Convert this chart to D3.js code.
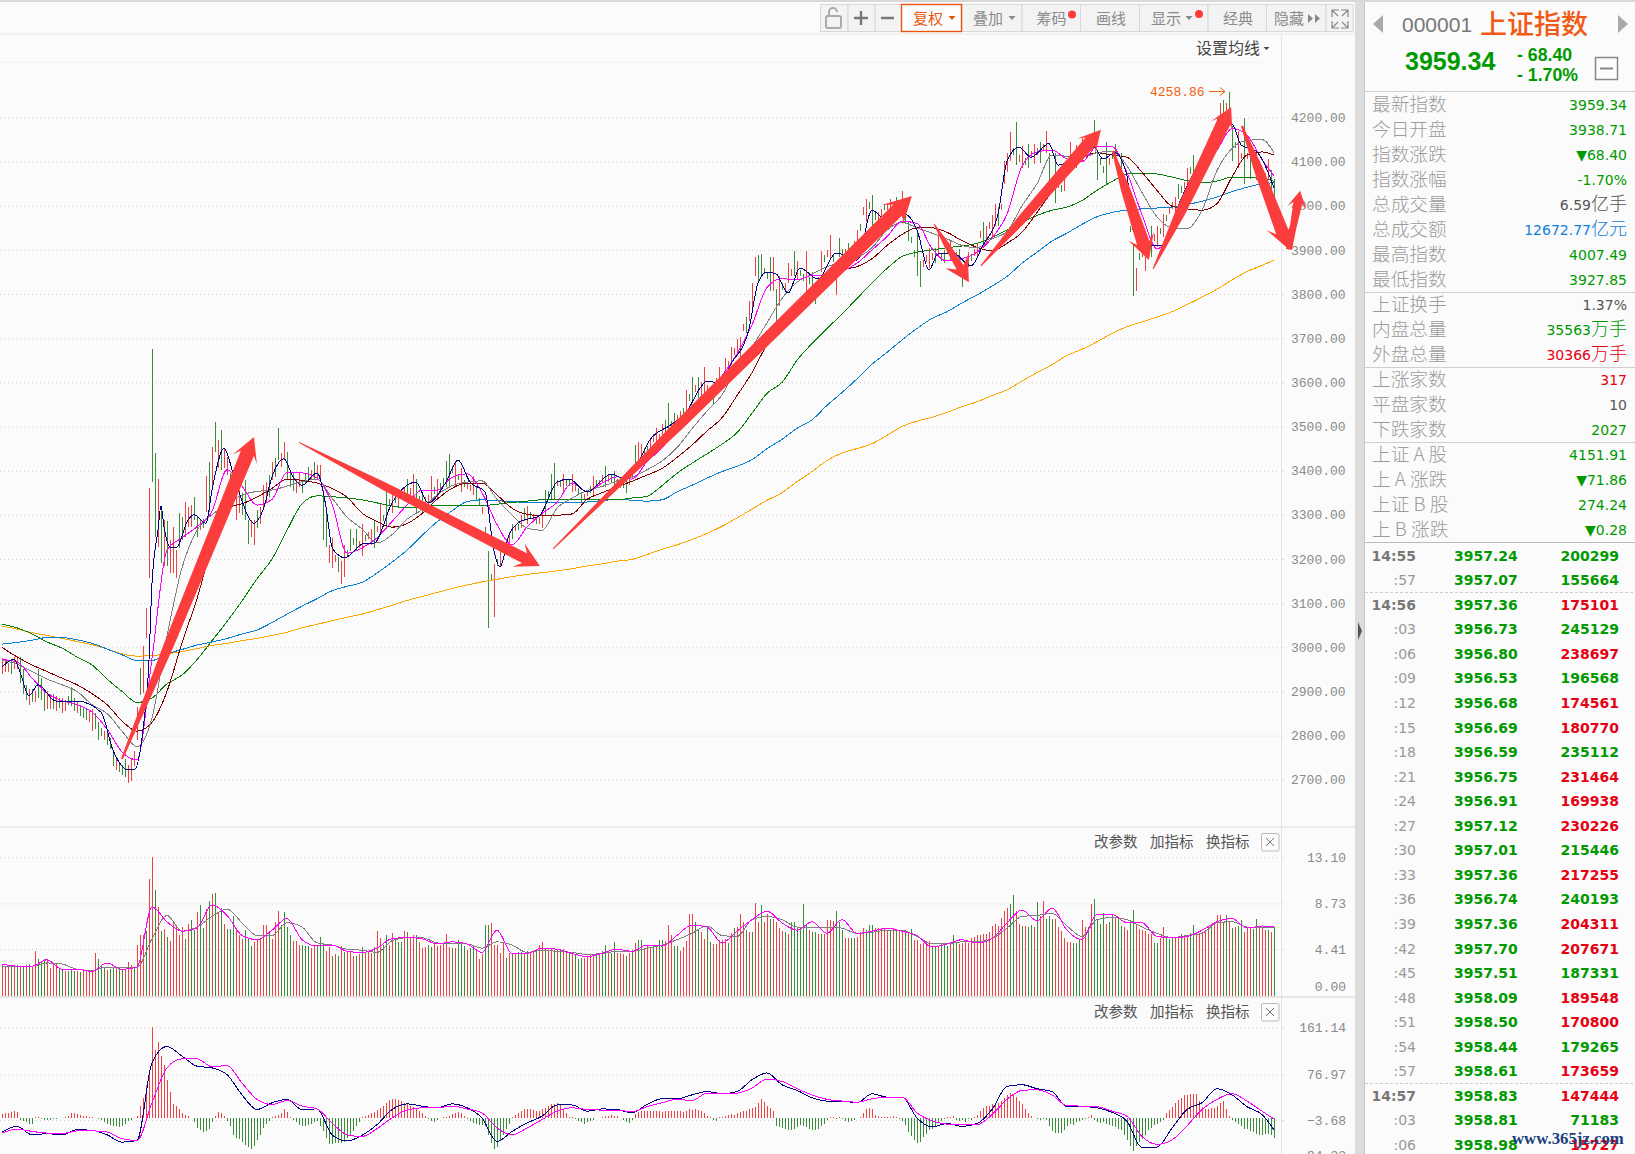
<!DOCTYPE html>
<html>
<head>
<meta charset="utf-8">
<script src="https://cdnjs.cloudflare.com/ajax/libs/d3/7.8.5/d3.min.js"></script>
<style>
  html, body { margin: 0; padding: 0; background: #fbfbfb; overflow: hidden; }
</style>
</head>
<body>
<div id="my_dataviz"></div>
<script>
// tick labels
var priceTicks = [2700, 2800, 2900, 3000, 3100, 3200, 3300, 3400, 3500, 3600, 3700, 3800, 3900, 4000, 4100, 4200];
var volTicks = [13.10, 8.73, 4.41, 0];
var macdTicks = [161.14, 76.97, -3.68, -84.33];

// one entry per trading bar, ten to a row
var candleLow = [
  2940,2945,2945,2940,2950,2950,2919,2895,2880,2870,
  2877,2875,2886,2880,2855,2860,2860,2860,2855,2862,
  2850,2855,2870,2866,2855,2850,2845,2840,2835,2830,
  2810,2815,2790,2798,2790,2779,2770,2730,2722,2718,
  2711,2707,2693,2696,2730,2790,2892,2896,3020,3156,
  3375,3250,3227,3191,3183,3183,3168,3168,3156,3224,
  3243,3250,3273,3273,3288,3250,3266,3270,3307,3307,
  3356,3443,3405,3402,3405,3390,3320,3330,3288,3303,
  3300,3288,3235,3250,3232,3270,3280,3318,3330,3341,
  3379,3386,3424,3409,3424,3379,3364,3355,3349,3364,
  3349,3370,3379,3379,3379,3379,3379,3243,3228,3190,
  3179,3192,3171,3143,3159,3205,3219,3232,3219,3225,
  3207,3240,3245,3231,3225,3260,3255,3285,3267,3320,
  3305,3327,3315,3335,3345,3327,3345,3327,3303,3327,
  3303,3325,3330,3327,3347,3339,3357,3367,3363,3363,
  3395,3363,3378,3351,3362,3358,3353,3345,3333,3322,
  3302,3257,3043,3150,3069,3185,3183,3218,3232,3230,
  3245,3263,3265,3270,3285,3279,3293,3288,3280,3280,
  3270,3297,3340,3333,3333,3365,3362,3350,3365,3365,
  3352,3355,3345,3327,3333,3343,3350,3345,3365,3365,
  3375,3363,3375,3375,3363,3368,3360,3360,3350,3368,
  3386,3411,3420,3417,3433,3438,3430,3465,3453,3467,
  3460,3465,3495,3497,3478,3510,3520,3527,3534,3557,
  3556,3578,3565,3560,3565,3577,3565,3551,3595,3600,
  3602,3612,3632,3640,3662,3660,3652,3717,3712,3740,
  3764,3842,3825,3842,3845,3835,3807,3807,3734,3773,
  3810,3808,3825,3840,3842,3833,3840,3830,3790,3822,
  3805,3777,3822,3850,3872,3885,3877,3872,3799,3885,
  3887,3886,3870,3886,3905,3900,3942,3980,3963,3992,
  3946,3967,3955,3977,3990,3990,3978,3987,3972,3992,
  3972,3960,3920,3915,3885,3842,3816,3862,3872,3860,
  3878,3870,3885,3875,3870,3890,3877,3875,3880,3860,
  3816,3845,3862,3875,3887,3885,3926,3911,3911,3947,
  3930,3955,3955,3990,4050,4076,4102,4115,4093,4100,
  4085,4092,4085,4110,4095,4115,4098,4125,4119,4050,
  4050,4007,4040,4032,4033,4072,4102,4095,4085,4108,
  4100,4117,4127,4137,4145,4059,4092,4075,4050,4092,
  4105,4093,4080,4050,4047,4002,3940,3796,3808,3877,
  3885,3852,3897,3885,3920,3906,3935,3929,3965,3982,
  3992,3980,4015,4030,4037,4040,4072,4059,4072,4050,
  4085,4100,4115,4119,4155,4182,4189,4190,4217,4205,
  4102,4130,4085,4105,4050,4105,4060,4085,4059,4068,
  4068,4060,4059,4025,4020
];
var candleHigh = [
  2975,2972,2965,2972,2978,2980,2979,2950,2915,2905,
  2905,2900,2950,2930,2905,2900,2895,2895,2890,2885,
  2885,2880,2890,2910,2885,2875,2870,2865,2860,2855,
  2860,2850,2830,2816,2810,2805,2795,2760,2752,2737,
  2733,2748,2733,2748,2764,2865,2952,3003,3088,3360,
  3676,3440,3381,3318,3288,3285,3243,3273,3220,3303,
  3296,3330,3318,3322,3341,3296,3288,3290,3388,3420,
  3454,3510,3470,3491,3450,3430,3394,3380,3364,3356,
  3350,3379,3288,3288,3288,3310,3318,3367,3375,3390,
  3420,3428,3496,3439,3466,3443,3402,3395,3379,3398,
  3379,3395,3409,3402,3420,3413,3413,3356,3318,3232,
  3247,3208,3205,3195,3231,3220,3267,3248,3267,3240,
  3279,3255,3260,3267,3285,3275,3327,3300,3363,3336,
  3351,3343,3357,3350,3362,3381,3360,3393,3381,3343,
  3345,3340,3345,3387,3363,3381,3373,3383,3423,3437,
  3410,3423,3393,3405,3378,3372,3367,3387,3363,3338,
  3318,3273,3219,3165,3189,3200,3243,3232,3246,3262,
  3280,3277,3280,3300,3315,3321,3307,3302,3295,3295,
  3310,3357,3355,3393,3417,3380,3376,3393,3380,3378,
  3392,3370,3360,3351,3347,3357,3365,3387,3380,3380,
  3390,3411,3390,3390,3399,3382,3375,3375,3387,3382,
  3404,3459,3465,3461,3452,3457,3470,3482,3497,3483,
  3505,3515,3554,3513,3530,3525,3535,3543,3582,3573,
  3612,3595,3612,3600,3635,3593,3580,3591,3610,3634,
  3618,3655,3648,3680,3678,3699,3703,3733,3747,3785,
  3825,3885,3888,3890,3860,3850,3885,3885,3812,3842,
  3825,3824,3870,3857,3898,3875,3855,3845,3898,3838,
  3850,3825,3838,3898,3888,3900,3933,3888,3868,3928,
  3903,3902,3915,3902,3920,3945,3958,3998,4015,4008,
  4024,3983,3985,3993,4005,4005,4015,4003,4020,4008,
  4033,3976,3965,3930,3900,3946,3876,3878,3888,3905,
  3894,3905,3942,3890,3900,3905,3920,3890,3895,3903,
  3868,3860,3895,3890,3903,3915,3942,3963,3955,3963,
  3980,4003,3998,4005,4102,4119,4167,4130,4190,4115,
  4136,4108,4141,4125,4141,4130,4145,4140,4170,4119,
  4065,4119,4055,4048,4093,4088,4145,4110,4138,4122,
  4154,4133,4143,4153,4195,4119,4108,4090,4145,4108,
  4120,4141,4095,4119,4063,4018,3955,3911,3860,3893,
  3900,3911,3913,3955,3935,3955,3950,3981,3980,3998,
  4008,4020,4050,4045,4053,4085,4088,4115,4088,4095,
  4100,4115,4130,4167,4170,4198,4232,4240,4233,4258.86,
  4180,4145,4170,4120,4199,4120,4120,4100,4124,4082,
  4082,4075,4106,4080,4060
];
var candleDir = [
  "rrrgrrgggr","grgggrrgrg","rrgggrgggr","rgggrgggrg","ggrrrrgrrr",
  "ggrgrgrrrg","grrrggrgrg","rgrgrrggrr","gggrrgrrrg","rggrrgggrr",
  "gggrgrrggr","rrgrrggggr","rgrrgrrggg","rgrgrgrrgg","grrrgrgggg",
  "grgrgrrrgg","rgggrgrgrr","grgrgrgrgr","rggggrgrgg","rrggrrgrgr",
  "rgrggrrggr","ggrrggrrrr","rggggrrgrg","grgrrrggrr","grrrrrrrgr",
  "rrgggggrgr","grrrgrggrg","ggrrgrrgrg","grggrrgrrg","ggrrgrrggr",
  "rggggggrrr","rgrggrrrrg","grrgrrrgrr","rrgrrrrggr","rggrrrgrrg",
  "ggrgrrrgrr","rgrrgggggr","ggrgggggrg","rrggrrgrgr","rrggrrggrr",
  "grrrrgrgrg","ggrrgrgrrg","grrgg"
].join("");

var volume = [
  2.9,2.8,2.7,2.9,2.8,2.9,2.8,2.8,2.9,3.0,
  2.7,4.2,3.5,3.3,3.5,3.4,2.6,3.0,3.0,2.6,
  2.4,2.3,2.3,2.4,2.3,2.3,2.2,2.3,2.4,2.3,
  2.4,4.0,3.5,2.8,2.7,2.4,2.5,2.7,2.6,2.5,
  2.5,2.5,3.2,2.9,2.6,4.8,5.7,5.7,6.1,11.0,
  13.1,10.0,8.4,6.1,6.3,5.6,5.2,7.0,6.7,5.7,
  6.5,5.4,6.8,7.2,6.2,7.9,8.6,6.4,8.2,9.0,
  9.6,9.7,7.8,8.3,6.8,6.3,6.3,7.5,6.3,5.7,
  5.4,6.2,5.5,4.7,5.1,5.4,5.4,6.7,6.7,6.0,
  5.4,7.0,8.0,6.7,7.9,6.5,5.7,5.2,5.2,4.8,
  4.8,4.7,4.7,4.5,4.8,4.8,5.6,4.9,4.2,4.6,
  3.8,3.9,3.8,4.7,4.1,4.2,4.2,3.8,3.8,3.9,
  4.6,4.0,4.1,4.0,4.6,6.1,5.5,4.8,5.7,4.8,
  5.9,5.5,5.1,5.1,6.1,6.0,5.5,5.7,5.7,5.1,
  4.5,4.6,4.8,4.6,5.0,4.7,4.8,4.9,5.8,4.6,
  4.5,4.5,5.3,5.1,4.7,4.3,4.5,4.8,4.3,3.5,
  3.9,6.7,6.7,6.9,4.8,4.8,4.0,5.1,3.6,4.0,
  4.0,4.0,4.1,4.1,4.0,4.2,4.0,4.1,4.4,4.8,
  5.1,4.5,4.2,4.4,4.3,4.3,4.3,4.4,4.2,4.1,
  4.1,3.9,3.5,3.6,3.6,3.8,3.9,3.9,3.9,4.0,
  4.2,4.8,4.2,4.0,5.1,4.0,4.0,3.9,3.8,4.0,
  4.3,5.0,5.3,5.3,4.5,4.7,4.6,4.7,4.6,5.3,
  5.3,5.2,6.7,5.7,4.7,4.7,4.2,4.6,5.2,7.7,
  7.7,7.0,6.2,6.0,5.4,6.5,5.1,4.9,4.9,5.3,
  5.3,5.4,5.0,5.9,6.4,6.5,7.7,7.0,6.2,6.0,
  6.0,8.8,7.0,8.6,7.0,7.7,7.3,7.3,7.0,6.4,
  6.1,6.0,5.8,7.0,7.0,6.5,6.5,8.7,6.8,6.2,
  6.0,6.0,5.8,5.8,5.8,7.2,7.2,7.1,8.0,7.0,
  6.2,5.5,5.5,5.5,5.5,5.6,6.0,6.4,6.2,6.7,
  6.7,6.4,6.4,6.4,6.4,6.2,6.2,6.2,6.3,6.2,
  6.1,6.1,6.0,6.3,5.3,5.3,4.9,5.0,5.2,5.2,
  4.7,4.6,4.6,4.9,5.0,4.7,5.0,5.7,5.0,4.9,
  5.0,5.2,5.0,5.5,5.6,5.7,5.7,5.8,5.8,6.0,
  6.6,6.8,6.6,7.4,8.0,8.3,8.7,9.5,8.0,6.8,
  6.6,6.6,6.5,6.7,6.5,8.9,7.5,9.0,7.3,7.5,
  7.3,7.3,6.5,6.1,5.5,5.1,5.1,5.0,5.0,5.4,
  7.2,6.5,6.5,8.7,9.2,7.2,6.8,7.8,6.8,7.0,
  7.7,7.4,7.4,6.6,6.5,6.2,7.0,8.1,6.7,6.3,
  6.2,6.1,5.8,5.8,5.0,5.0,5.5,6.5,5.5,5.4,
  5.5,5.5,5.5,5.8,5.7,5.7,5.9,6.7,5.9,5.9,
  6.0,6.2,6.5,6.6,6.9,7.6,7.6,7.0,7.6,7.0,
  6.4,6.5,6.6,7.2,6.0,6.3,6.5,6.3,7.3,6.5,
  6.4,6.2,6.2,6.0,6.5
];
var volumeDir = [
  "rrrgrgrgrg","rrgggrrrrg","grgggrgrrr","rrgggrggrg","grrrgrrrgr",
  "rgrgrgrrrr","rgrggrggrg","rgrgrgggrr","rgggrrrrrg","rrrggggrrr",
  "gggrrgggrr","grgrgrrrgr","grrrgrrggr","rgggrgrrgr","rrggrrrrrr",
  "grgggrggrr","rggrrrrrgr","grggrgrrgr","rgrrgrgrrg","rgggrrrrgr",
  "ggrggrrrgr","grggrrrgrg","grrrggrrrr","rggrrggrrr","rrgrgrrrgr",
  "grrgrrgrrr","rgrggggggr","ggrgrrrrgg","grrggrrrgg","grrrrrgrgr",
  "rgrgrrrrrr","ggrgggrggr","rrrrrrrrrr","rrrrrrggrr","grggrgrrgg",
  "grrrrrrggg","rrgrggggrg","grggrrggrr","rrrrggrrgg","grrgrrggrr",
  "rrrgrrrggr","grggrrrggr","rrgrg"
].join("");

var macdHist = [
  7,9,9,10,12,10,-3,-6,-8,-10,
  -10,1,1,-2,-4,-3,-3,-2,-2,-1,
  -1,1,3,8,9,7,6,4,3,2,
  1,-1,-2,-4,-8,-10,-13,-14,-15,-16,
  -14,-10,-6,-4,-1,3,21,36,58,81,
  162,121,135,110,94,68,46,24,21,16,
  9,6,3,-1,-8,-18,-22,-25,-24,-20,
  -8,4,10,8,4,-5,-15,-30,-35,-38,
  -42,-48,-52,-56,-50,-40,-30,-18,-10,-5,
  2,4,6,9,15,10,2,-3,-8,-12,
  -14,-14,-12,-10,-8,-6,-15,-24,-35,-46,
  -46,-45,-45,-44,-42,-36,-32,-24,-15,-8,
  2,4,6,8,11,14,18,22,26,32,
  33,33,32,30,27,25,22,20,16,12,
  8,4,-2,-5,-7,-4,0,1,1,3,
  7,9,10,9,4,-2,-6,-9,-11,-13,
  -12,-14,-30,-44,-56,-52,-40,-30,-20,-10,
  2,5,9,13,15,16,15,14,12,12,
  15,18,21,24,25,27,24,15,8,2,
  1,-2,-5,-8,-10,-7,-5,-3,-1,0,
  1,3,4,5,4,3,-1,-4,-7,-9,
  -3,7,10,12,12,12,13,13,13,13,
  11,12,12,12,12,13,12,11,13,15,
  14,15,14,12,9,3,1,-4,-5,2,
  2,3,5,7,5,8,10,12,13,16,
  18,20,26,33,28,22,17,12,-14,-17,
  -18,-20,-21,-22,-20,-16,-13,-14,-17,-20,
  -22,-21,-19,-15,-10,-3,1,2,-2,1,
  -2,-5,-8,-5,-4,-1,2,8,15,18,
  15,6,3,2,2,1,2,3,1,-2,
  -6,-12,-25,-32,-40,-44,-42,-34,-28,-22,
  -20,-16,-9,-5,-2,1,2,4,-3,-5,
  -4,-8,-2,-3,2,6,12,18,21,22,
  24,23,26,30,36,41,44,42,37,30,
  24,16,8,3,-1,-2,-3,-2,-3,-14,
  -24,-27,-26,-27,-22,-14,-10,-12,-8,-6,
  -4,-2,1,6,-4,-7,-9,-8,-11,-12,
  -14,-16,-20,-22,-30,-40,-50,-59,-50,-42,
  -38,-30,-22,-18,-12,-10,-8,-3,9,14,
  20,26,32,36,40,41,43,43,42,30,
  20,16,15,18,17,22,26,30,15,3,
  -4,-8,-10,-14,-20,-20,-24,-25,-28,-30,
  -30,-29,-28,-30,-36
];

// moving averages, read every fifth bar (last value is the last bar)
var maBars = d3.range(0, 425, 5).concat([424]);
var ma10 = [
  2972,2967,2930,2896,2879,2870,2853,2815,2763,2745,
  2975,3220,3248,3273,3308,3402,3365,3322,3335,3396,
  3395,3383,3325,3213,3225,3248,3285,3322,3356,3356,
  3385,3393,3350,3278,3232,3272,3303,3328,3372,3352,
  3372,3386,3381,3420,3452,3495,3535,3578,3615,3665,
  3730,3815,3835,3832,3842,3842,3852,3870,3900,3930,
  3965,3960,3903,3875,3880,3895,3927,3981,4090,4122,
  4126,4106,4100,4135,4134,4075,3980,3903,3935,4000,
  4095,4127,4175,4160,4105,4068
];
var ma20 = [
  2970,2962,2945,2928,2915,2900,2870,2850,2810,2775,
  2840,3025,3180,3265,3300,3325,3345,3353,3356,3365,
  3375,3381,3338,3295,3268,3236,3255,3290,3312,3345,
  3366,3374,3377,3335,3300,3270,3265,3315,3338,3355,
  3364,3377,3385,3402,3422,3452,3495,3535,3572,3635,
  3680,3735,3790,3827,3845,3862,3873,3882,3905,3945,
  3962,3950,3938,3925,3910,3905,3925,3942,4000,4050,
  4115,4112,4110,4120,4124,4090,4030,3975,3950,3948,
  3990,4080,4130,4148,4150,4120
];
var ma30 = [
  3000,2978,2960,2945,2930,2915,2895,2870,2833,2810,
  2830,2900,3010,3110,3230,3315,3325,3340,3360,3381,
  3378,3372,3360,3340,3304,3285,3272,3280,3303,3335,
  3360,3372,3372,3345,3315,3301,3298,3299,3302,3335,
  3350,3363,3376,3390,3405,3430,3458,3490,3520,3570,
  3622,3685,3722,3757,3795,3830,3855,3862,3880,3910,
  3935,3950,3950,3940,3921,3906,3898,3915,3940,3985,
  4032,4075,4108,4120,4115,4110,4076,4035,3999,3993,
  3990,4005,4065,4115,4122,4115
];
var ma60 = [
  3052,3044,3030,3012,2998,2978,2960,2928,2900,2875,
  2885,2917,2937,2972,3015,3058,3105,3155,3200,3265,
  3325,3343,3341,3338,3334,3327,3320,3316,3318,3321,
  3321,3321,3321,3324,3328,3331,3334,3334,3334,3334,
  3334,3334,3338,3342,3366,3394,3417,3438,3460,3486,
  3530,3575,3600,3650,3688,3722,3755,3790,3825,3858,
  3885,3895,3900,3905,3909,3915,3928,3945,3962,3978,
  3990,3997,4012,4035,4055,4072,4074,4072,4065,4057,
  4052,4056,4065,4064,4063,4055
];
var ma120 = [
  3007,3011,3016,3022,3022,3017,3009,2996,2983,2970,
  2970,2985,2995,3005,3012,3020,3030,3039,3056,3075,
  3093,3110,3128,3138,3147,3168,3193,3220,3253,3284,
  3309,3330,3334,3332,3330,3328,3328,3327,3327,3329,
  3332,3335,3333,3331,3334,3352,3367,3383,3398,3410,
  3425,3450,3471,3496,3515,3548,3577,3608,3641,3668,
  3696,3722,3745,3760,3780,3798,3818,3840,3870,3895,
  3920,3938,3958,3975,3985,3990,3993,3995,3997,4003,
  4010,4020,4032,4042,4050,4052
];
var ma250 = [
  3048,3041,3033,3027,3020,3013,3006,2996,2985,2980,
  2981,2985,2990,2997,3004,3009,3015,3020,3027,3034,
  3044,3052,3060,3068,3075,3085,3095,3106,3115,3124,
  3133,3141,3148,3154,3160,3165,3169,3173,3178,3184,
  3189,3195,3199,3210,3222,3232,3244,3258,3274,3293,
  3313,3333,3350,3375,3398,3423,3440,3450,3461,3480,
  3500,3512,3521,3532,3545,3556,3570,3583,3603,3622,
  3640,3661,3675,3692,3711,3726,3737,3748,3760,3776,
  3793,3811,3832,3851,3865,3877
];

// the 5 day line wiggles too much for that, so it has its own bars
var ma5Bars = [
  0,4,6,9,12,18,25,33,37,42,
  44,47,49,50,52,53,54,56,58,62,
  64,68,70,74,77,79,84,87,90,94,
  97,100,105,108,110,113,114,121,124,130,
  138,142,148,152,156,161,164,166,169,173,
  179,185,189,195,203,208,213,216,223,228,
  233,235,239,243,249,252,255,258,262,266,
  272,278,285,290,294,301,305,309,312,317,
  323,327,332,335,339,343,349,352,358,364,
  367,371,375,377,381,387,393,399,404,410,
  413,418,424
];
var ma5 = [
  2955,2973,2944,2890,2915,2878,2878,2853,2767,2722,
  2722,2813,2971,3145,3266,3320,3273,3227,3225,3288,
  3300,3281,3356,3451,3395,3352,3281,3311,3386,3427,
  3386,3367,3395,3318,3227,3205,3202,3236,3236,3327,
  3374,3327,3374,3424,3374,3352,3218,3182,3254,3286,
  3297,3374,3381,3352,3392,3381,3431,3470,3504,3531,
  3590,3603,3599,3642,3721,3825,3850,3846,3802,3859,
  3834,3893,3877,3990,3972,3981,3945,3855,3891,3893,
  3864,3911,3981,4101,4133,4110,4141,4092,4108,4133,
  4106,4120,4068,3945,3911,3911,4015,4092,4120,4185,
  4138,4124,4041
];

var volMa5 = [
  3.0,2.8,2.8,3.4,2.5,2.5,2.3,3.1,2.5,2.7,
  8.4,7.0,6.1,6.4,8.6,7.6,5.7,5.3,6.2,7.3,
  5.3,4.7,4.8,4.2,4.1,4.5,5.4,5.5,5.4,4.9,
  5.1,4.9,4.1,6.2,4.0,4.0,4.5,4.4,4.0,3.7,
  4.0,4.4,4.2,4.8,4.7,5.7,6.7,6.5,5.0,6.1,
  7.2,8.0,6.9,6.2,7.0,5.9,7.2,5.9,6.1,6.4,
  6.1,5.7,4.6,4.9,5.3,5.0,5.4,6.9,8.1,7.1,
  8.3,6.2,5.3,7.7,7.7,6.9,6.9,5.6,5.5,5.6,
  6.2,7.0,7.3,6.4,6.6,6.5
];
var volMa10 = [
  2.8,2.8,2.8,3.1,3.0,2.5,2.4,2.7,2.7,2.7,
  5.4,7.6,6.1,6.5,7.5,8.2,6.9,5.7,5.7,6.9,
  6.5,5.0,4.8,4.4,4.3,4.1,5.2,5.5,5.5,5.0,
  4.9,4.9,4.5,5.1,4.8,4.1,4.3,4.2,4.1,3.9,
  4.0,4.2,4.2,4.5,4.8,5.3,5.9,6.6,5.7,5.6,
  7.2,7.5,7.2,6.5,6.5,6.5,6.4,5.9,6.0,6.2,
  6.2,5.6,4.9,4.9,5.1,5.1,5.4,6.4,7.5,7.6,
  7.8,6.6,5.6,7.2,7.4,7.2,6.5,5.9,5.5,5.7,
  5.9,6.9,7.0,6.5,6.5,6.5
];
var macdDif = [
  -25,-15,-30,-28,-30,-21,-22,-30,-43,-40,
  98,127,110,92,89,77,41,15,27,33,
  15,16,-30,-41,-31,-12,15,25,21,18,
  25,18,0,-42,-24,-9,3,23,23,12,
  16,15,9,24,34,34,41,47,43,47,
  68,80,59,49,36,30,30,27,43,37,
  37,0,-16,-10,-15,-10,15,56,59,52,
  47,20,20,18,10,-6,-53,-52,-18,15,
  27,52,41,20,6,-21
];
var macdDea = [
  -27,-20,-24,-27,-28,-23,-23,-25,-37,-40,
  27,89,105,105,91,93,62,33,24,31,
  21,16,-9,-30,-33,-19,0,14,18,18,
  21,16,9,-18,-30,-18,-3,12,18,15,
  14,14,11,20,27,33,31,44,43,44,
  53,69,65,52,41,33,30,28,34,37,
  37,9,-5,-11,-12,-12,6,33,49,50,
  41,22,21,20,12,3,-33,-47,-39,-14,
  15,33,43,30,12,-2
];

// hand drawn arrows, tail and tip as [bar, price]
var arrowFrom = [[40,2747],[99,3464],[183.7,3223],[310.7,3959],[326.3,3864],[370.3,4124],[383.7,3857],[413.3,4181],[429,3901]];
var arrowTo = [[84,3476],[179.3,3184],[303.3,4022],[322.3,3827],[366.3,4172],[382.3,3877],[409.7,4224],[429,3901],[432.7,4034]];
var arrowTail = [2,1,1,1,1,2,1,2,6];
var arrowShaft = [14,11,14,8,13,13,14,13,9];
var arrowHead = [24,24,27,24,22,25,22,26,17];

// quote panel
var statLabels = ["最新指数","今日开盘","指数涨跌","指数涨幅","总成交量","总成交额","最高指数","最低指数","上证换手","内盘总量","外盘总量","上涨家数","平盘家数","下跌家数","上证 A 股","上 A 涨跌","上证 B 股","上 B 涨跌"];
var statValues = ["3959.34","3938.71","▼68.40","-1.70%","6.59亿手","12672.77亿元","4007.49","3927.85","1.37%","35563万手","30366万手","317","10","2027","4151.91","▼71.86","274.24","▼0.28"];
var statColors = ["#009a00","#009a00","#009a00","#009a00","#555555","#1080d8","#009a00","#009a00","#555555","#009a00","#e60012","#e60012","#555555","#009a00","#009a00","#009a00","#009a00","#009a00"];

// tick list
var tickTimes = ["14:55",":57","14:56",":03",":06",":09",":12",":15",":18",":21",":24",":27",":30",":33",":36",":39",":42",":45",":48",":51",":54",":57","14:57",":03",":06"];
var tickPrices = [3957.24,3957.07,3957.36,3956.73,3956.80,3956.53,3956.68,3956.69,3956.59,3956.75,3956.91,3957.12,3957.01,3957.36,3956.74,3957.36,3957.70,3957.51,3958.09,3958.50,3958.44,3958.61,3958.83,3958.81,3958.98];
var tickVolumes = [200299,155664,175101,245129,238697,196568,174561,180770,235112,231464,169938,230226,215446,217255,240193,204311,207671,187331,189548,170800,179265,173659,147444,71183,15727];
var tickDirs = "ggrgrgrrgrrrgrgrrgrrgrrgr";

var CJK = '"Noto Sans CJK SC", sans-serif';
var RED = "#f04242", GREEN = "#3a8e3a";
var W = 1635, H = 1154, plotRight = 1278;

var svg = d3.select("#my_dataviz").append("svg")
  .attr("width", W).attr("height", H)
  .style("display", "block")
  .style("font-family", CJK);

svg.append("defs").append("clipPath").attr("id", "plot")
  .append("rect").attr("x", 0).attr("y", 34).attr("width", plotRight + 1).attr("height", H);

var x = d3.scaleLinear().domain([0, 424]).range([2, 1274]);
var yPrice = d3.scaleLinear().domain([2700, 4200]).range([779.7, 117.5]);
var yVol = d3.scaleLinear().domain([0, 13.1]).range([995.7, 857.3]);
var yMacd = d3.scaleLinear().domain([-3.68, 161.14]).range([1120, 1027.3]);
var bars = d3.range(424 + 1);

// frame
svg.append("rect").attr("width", W).attr("height", 2).attr("fill", "#d9d9d9");
svg.append("rect").attr("x", 1355).attr("y", 2).attr("width", 10).attr("height", H).attr("fill", "#dcdcdc");
svg.append("rect").attr("x", 1364).attr("y", 2).attr("width", 1).attr("height", H).attr("fill", "#c8c8c8");
svg.append("path").attr("d", "M1358,622L1362,631L1358,640Z").attr("fill", "#555");
[[34, "#e8e8e8", 1355, 1], [62, "#f2f2f2", 1262, 1], [827, "#e6e6e6", 1355, 1.5], [997, "#e6e6e6", 1355, 2]].forEach(function (d) {
  svg.append("line").attr("x1", 0).attr("x2", d[2]).attr("y1", d[0]).attr("y2", d[0])
    .attr("stroke", d[1]).attr("stroke-width", d[3]);
});
svg.append("line").attr("x1", 1281.5).attr("x2", 1281.5).attr("y1", 34).attr("y2", H).attr("stroke", "#e6e6e6");

// dotted grid + right hand labels, one pair of axes per pane
function pane(scale, ticks) {
  var grid = svg.append("g").call(d3.axisRight(scale).tickValues(ticks).tickSize(plotRight).tickFormat(""));
  grid.select(".domain").remove();
  grid.selectAll("line").attr("stroke", "#cfcfcf").attr("stroke-dasharray", "1,3");
  var axis = svg.append("g").attr("transform", "translate(1281,0)")
    .call(d3.axisRight(scale).tickValues(ticks).tickSize(3).tickPadding(7).tickFormat(d3.format(".2f")));
  axis.select(".domain").remove();
  axis.selectAll("line").attr("stroke", "#dddddd");
  axis.selectAll("text")
    .style("font-family", '"Liberation Mono", monospace')
    .style("font-size", "13px")
    .attr("fill", "#8a8a8a");
  return axis;
}
pane(yPrice, priceTicks);
var volAxis = pane(yVol, volTicks);
var macdAxis = pane(yMacd, macdTicks);
[volAxis, macdAxis].forEach(function (a) {
  a.selectAll("text").attr("text-anchor", "end").attr("x", 65);
});
// the zero label of the volume pane sits above its line, the last MACD one runs off the page
volAxis.selectAll("text").filter(function (d) { return d === 0; }).attr("y", -9);
macdAxis.selectAll("text").filter(function (d) { return d === -84.33; }).attr("y", -10);

var plot = svg.append("g").attr("clip-path", "url(#plot)");

function dirColor(dirs) {
  return function (i) { return dirs.charAt(i) === "r" ? RED : GREEN; };
}

// candles: with this many bars they are just sticks
plot.append("g").selectAll("line").data(bars).enter().append("line")
  .attr("x1", function (i) { return Math.round(x(i)) + 0.5; })
  .attr("x2", function (i) { return Math.round(x(i)) + 0.5; })
  .attr("y1", function (i) { return yPrice(candleHigh[i]); })
  .attr("y2", function (i) { return yPrice(candleLow[i]); })
  .attr("stroke", dirColor(candleDir))
  .attr("stroke-width", 1)
  .attr("shape-rendering", "crispEdges");

// the terminal draws its lines without antialiasing
function drawLine(xs, values, scale, color, width) {
  var line = d3.line()
    .x(function (d) { return x(d[0]); })
    .y(function (d) { return scale(d[1]); })
    .curve(d3.curveMonotoneX);
  plot.append("path")
    .datum(d3.zip(xs, values))
    .attr("d", line)
    .attr("fill", "none")
    .attr("stroke", color)
    .attr("stroke-width", width)
    .attr("shape-rendering", "crispEdges");
}
drawLine(maBars, ma250, yPrice, "#ffa500", 1);
drawLine(maBars, ma120, yPrice, "#0a7fd0", 1);
drawLine(maBars, ma60, yPrice, "#0a800a", 1);
drawLine(maBars, ma30, yPrice, "#800000", 1);
drawLine(maBars, ma20, yPrice, "#808080", 1);
drawLine(maBars, ma10, yPrice, "#ff00ff", 1);
drawLine(ma5Bars, ma5, yPrice, "#000080", 1);

// volume pane
plot.append("g").selectAll("line").data(bars).enter().append("line")
  .attr("x1", function (i) { return Math.round(x(i)) + 0.5; })
  .attr("x2", function (i) { return Math.round(x(i)) + 0.5; })
  .attr("y1", function (i) { return yVol(volume[i]); })
  .attr("y2", yVol(0))
  .attr("stroke", dirColor(volumeDir))
  .attr("stroke-width", 1)
  .attr("shape-rendering", "crispEdges");
drawLine(maBars, volMa10, yVol, "#808080", 1);
drawLine(maBars, volMa5, yVol, "#ff00ff", 1);

// MACD pane
plot.append("g").selectAll("line").data(bars).enter().append("line")
  .attr("x1", function (i) { return Math.round(x(i)) + 0.5; })
  .attr("x2", function (i) { return Math.round(x(i)) + 0.5; })
  .attr("y1", yMacd(0))
  .attr("y2", function (i) { return yMacd(macdHist[i]); })
  .attr("stroke", function (i) { return macdHist[i] >= 0 ? RED : GREEN; })
  .attr("stroke-width", 1)
  .attr("shape-rendering", "crispEdges");
drawLine(maBars, macdDif, yMacd, "#000080", 1);
drawLine(maBars, macdDea, yMacd, "#ff00ff", 1);

// highest price marker
svg.append("text").attr("x", 1150).attr("y", 95.5)
  .style("font-family", '"Liberation Mono", monospace').style("font-size", "13px")
  .attr("fill", "#f0600f").text("4258.86");
svg.append("path").attr("d", "M1209,91.5H1225M1220,87.5L1225,91.5L1220,95.5")
  .attr("fill", "none").attr("stroke", "#f0600f");

// red arrows on top of everything in the chart area
function arrowPoints(k) {
  var p0 = [x(arrowFrom[k][0]), yPrice(arrowFrom[k][1])];
  var p1 = [x(arrowTo[k][0]), yPrice(arrowTo[k][1])];
  var len = Math.hypot(p1[0] - p0[0], p1[1] - p0[1]);
  var ux = (p1[0] - p0[0]) / len, uy = (p1[1] - p0[1]) / len;
  var nx = -uy, ny = ux;
  var head = arrowHead[k], shaft = arrowShaft[k], tail = arrowTail[k];
  function at(back, side) {
    return [p1[0] - ux * back + nx * side, p1[1] - uy * back + ny * side];
  }
  // shaft swells fast from the tail and is nearly straight after that
  return [
    at(len, tail / 2),
    at(len * 0.65, shaft * 0.36),
    at(head * 0.72, shaft / 2),
    at(head, head / 2 + 1),
    p1,
    at(head, -head / 2 - 1),
    at(head * 0.72, -shaft / 2),
    at(len * 0.65, -shaft * 0.36),
    at(len, -tail / 2)
  ];
}
svg.append("g").selectAll("polygon").data(d3.range(arrowTo.length)).enter().append("polygon")
  .attr("points", function (k) { return arrowPoints(k).join(" "); })
  .attr("fill", "#fc3d3d");

// pane buttons
[842, 1012].forEach(function (cy) {
  [["改参数", 1094], ["加指标", 1150], ["换指标", 1206]].forEach(function (d) {
    svg.append("text").attr("x", d[1]).attr("y", cy + 5).attr("fill", "#555")
      .style("font-size", "14.5px").text(d[0]);
  });
  svg.append("rect").attr("x", 1261.5).attr("y", cy - 8.5).attr("width", 17.5).attr("height", 17.5)
    .attr("rx", 1.5).attr("fill", "#fbfbfb").attr("stroke", "#bbb");
  svg.append("path").attr("d", "M" + 1266 + "," + (cy - 4) + "l8,8m0,-8l-8,8")
    .attr("stroke", "#777").attr("fill", "none");
});

// toolbar
var toolEdges = [820, 847.5, 874.6, 901, 961.4, 1021.5, 1080, 1139, 1207.5, 1266, 1325.5, 1352.6];
var toolLabels = ["", "", "", "复权", "叠加", "筹码", "画线", "显示", "经典", "隐藏", ""];
var toolTextX = [0, 0, 0, 913, 973, 1036.5, 1096, 1151, 1223, 1274, 0];
toolLabels.forEach(function (label, k) {
  var active = label === "复权";
  svg.append("rect").attr("x", toolEdges[k] + 0.5).attr("y", 4.5)
    .attr("width", toolEdges[k + 1] - toolEdges[k]).attr("height", 27)
    .attr("fill", active ? "#fdfdfd" : "#f3f3f3").attr("stroke", "#d8d8d8");
  if (label) {
    svg.append("text").attr("x", toolTextX[k]).attr("y", 23.5)
      .attr("fill", active ? "#e8550f" : "#8a8a8a").style("font-size", "15px").text(label);
  }
});
svg.append("rect").attr("x", 901.5).attr("y", 4.5).attr("width", 60).attr("height", 27)
  .attr("fill", "none").attr("stroke", "#e8550f").attr("stroke-width", 1.4);
[[952, "#e8550f"], [1012, "#888"], [1189, "#888"]].forEach(function (d) {
  svg.append("path").attr("d", "M" + (d[0] - 3.5) + ",16h7l-3.5,4z").attr("fill", d[1]);
});
[[1072, 14.5], [1199, 14]].forEach(function (d) {
  svg.append("circle").attr("cx", d[0]).attr("cy", d[1]).attr("r", 4).attr("fill", "#ff3b3b");
});
// lock, plus, minus, the double arrow and the full screen icon
svg.append("rect").attr("x", 826).attr("y", 16).attr("width", 15).attr("height", 12).attr("rx", 2)
  .attr("fill", "none").attr("stroke", "#aaa").attr("stroke-width", 2);
svg.append("path").attr("d", "M829,16v-4a4,4 0 0 1 8,0").attr("fill", "none").attr("stroke", "#aaa").attr("stroke-width", 2);
svg.append("path").attr("d", "M854,18h14M861,11v14M881,18h13").attr("stroke", "#777").attr("stroke-width", 2.4).attr("fill", "none");
svg.append("path").attr("d", "M1308,14l5,4.5l-5,4.5zM1315,14l5,4.5l-5,4.5z").attr("fill", "#888");
svg.append("path")
  .attr("d", "M1332,17v-7h7M1332,10l6,6M1348,17v-7h-7M1348,10l-6,6M1332,21v7h7M1332,28l6,-6M1348,21v7h-7M1348,28l-6,-6")
  .attr("stroke", "#888").attr("stroke-width", 1.2).attr("fill", "none");

svg.append("text").attr("x", 1196).attr("y", 54).attr("fill", "#444")
  .style("font-size", "16px").text("设置均线");
svg.append("path").attr("d", "M1263.5,47h6l-3,3z").attr("fill", "#444");

// quote panel head
svg.append("path").attr("d", "M1383,15v18l-10,-9z").attr("fill", "#aaa");
svg.append("path").attr("d", "M1618,15v18l10,-9z").attr("fill", "#aaa");
svg.append("text").attr("x", 1402).attr("y", 31.5).attr("fill", "#777")
  .style("font-family", '"Liberation Sans", sans-serif').style("font-size", "21px").text("000001");
svg.append("text").attr("x", 1480).attr("y", 34).attr("fill", "#f05a14")
  .style("font-size", "27px").style("font-weight", 500).text("上证指数");
svg.append("text").attr("x", 1405).attr("y", 70).attr("fill", "#009a00")
  .style("font-family", '"Liberation Sans", sans-serif').style("font-size", "25px").style("font-weight", 700).text("3959.34");
svg.append("text").attr("x", 1517).attr("y", 61).attr("fill", "#009a00")
  .style("font-family", '"Liberation Sans", sans-serif').style("font-size", "17.7px").style("font-weight", 700).text("- 68.40");
svg.append("text").attr("x", 1517).attr("y", 81).attr("fill", "#009a00")
  .style("font-family", '"Liberation Sans", sans-serif').style("font-size", "17.7px").style("font-weight", 700).text("- 1.70%");
svg.append("rect").attr("x", 1595.5).attr("y", 57.5).attr("width", 22).attr("height", 22)
  .attr("fill", "#fdfdfd").attr("stroke", "#888").attr("stroke-width", 1.5);
svg.append("rect").attr("x", 1600).attr("y", 67.5).attr("width", 13).attr("height", 2).attr("fill", "#888");

[91.5, 292.5, 367.5, 442.5].forEach(function (yy) {
  svg.append("line").attr("x1", 1365).attr("x2", W).attr("y1", yy).attr("y2", yy).attr("stroke", "#cfcfcf");
});
svg.append("line").attr("x1", 1365).attr("x2", W).attr("y1", 542.5).attr("y2", 542.5).attr("stroke", "#bbb");
[592.5, 1083.5].forEach(function (yy) {
  svg.append("line").attr("x1", 1365).attr("x2", W).attr("y1", yy).attr("y2", yy)
    .attr("stroke", "#ccc").attr("stroke-dasharray", "3,2");
});

// stats rows
var rowY = d3.scaleLinear().domain([0, 17]).range([104.3, 529.7]);
var statRows = svg.append("g").selectAll("g").data(statLabels).enter().append("g")
  .attr("transform", function (d, i) { return "translate(0," + rowY(i) + ")"; });
statRows.append("text").attr("x", 1372).attr("y", 6.5).attr("fill", "#9c9c9c")
  .style("font-size", "18.7px").style("font-weight", 300).text(function (d) { return d; });
var statText = statRows.append("text").attr("x", 1627).attr("y", 5.5).attr("text-anchor", "end")
  .attr("fill", function (d, i) { return statColors[i]; })
  .style("font-family", '"DejaVu Sans", "Noto Sans CJK SC", sans-serif').style("font-size", "14px");
statText.each(function (d, i) {
  // the units are in a bigger Chinese font than the number
  var m = statValues[i].match(/^(.*?)([亿万].*)?$/);
  var t = d3.select(this);
  t.append("tspan").text(m[1]);
  if (m[2]) t.append("tspan").style("font-size", "18px").style("font-family", CJK).style("font-weight", 300).text(m[2]);
});

// tick list
var tickY = d3.scaleLinear().domain([0, 24]).range([555.7, 1145]);
var tickFont = '"DejaVu Sans", sans-serif';
var tickRows = svg.append("g").selectAll("g").data(tickTimes).enter().append("g")
  .attr("transform", function (d, i) { return "translate(0," + tickY(i) + ")"; })
  .style("font-family", tickFont).style("font-size", "14px");
tickRows.append("text").attr("x", 1416).attr("y", 5).attr("text-anchor", "end")
  .attr("fill", function (d) { return d.length > 3 ? "#777" : "#999"; })
  .style("font-weight", function (d) { return d.length > 3 ? 700 : 400; })
  .text(function (d) { return d; });
tickRows.append("text").attr("x", 1454).attr("y", 5).attr("fill", "#009a00").style("font-weight", 700)
  .text(function (d, i) { return tickPrices[i].toFixed(2); });
tickRows.append("text").attr("x", 1619).attr("y", 5).attr("text-anchor", "end").style("font-weight", 700)
  .attr("fill", function (d, i) { return tickDirs.charAt(i) === "r" ? "#e60012" : "#009a00"; })
  .text(function (d, i) { return tickVolumes[i]; });

// watermark of the site the screenshot came from
svg.append("text").attr("x", 1512).attr("y", 1144).attr("fill", "#1c3f7c")
  .style("font-family", '"Liberation Serif", serif').style("font-size", "16.8px").style("font-weight", 700)
  .text("www.365jz.com");
</script>
</body>
</html>
